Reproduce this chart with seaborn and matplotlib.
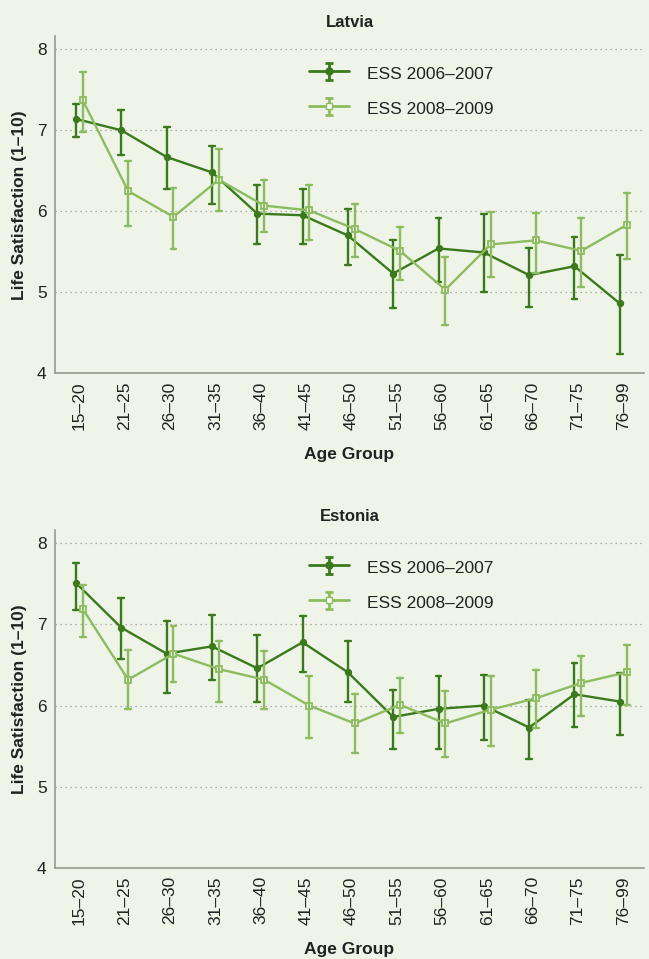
import numpy as np
import pandas as pd
import seaborn as sns
import matplotlib.pyplot as plt

age_groups = ['15–20', '21–25', '26–30', '31–35', '36–40', '41–45', '46–50',
              '51–55', '56–60', '61–65', '66–70', '71–75', '76–99']
surveys = ['ESS 2006–2007', 'ESS 2008–2009']

# Latvia: mean, lower and upper bound of the interval
lv_0607 = [7.14, 7.00, 6.67, 6.48, 5.97, 5.95, 5.70, 5.23, 5.54, 5.49, 5.21, 5.32, 4.86]
lv_0607_lo = [6.92, 6.69, 6.27, 6.09, 5.60, 5.60, 5.34, 4.80, 5.13, 5.00, 4.82, 4.92, 4.23]
lv_0607_hi = [7.33, 7.25, 7.04, 6.81, 6.33, 6.28, 6.03, 5.64, 5.92, 5.97, 5.55, 5.68, 5.46]
lv_0809 = [7.37, 6.25, 5.93, 6.39, 6.07, 6.01, 5.78, 5.51, 5.03, 5.59, 5.64, 5.51, 5.83]
lv_0809_lo = [6.98, 5.82, 5.53, 6.00, 5.74, 5.65, 5.44, 5.15, 4.59, 5.19, 5.24, 5.06, 5.41]
lv_0809_hi = [7.72, 6.62, 6.29, 6.77, 6.38, 6.32, 6.09, 5.81, 5.44, 5.99, 5.98, 5.92, 6.23]

# Estonia
ee_0607 = [7.51, 6.96, 6.64, 6.73, 6.46, 6.78, 6.41, 5.86, 5.96, 6.00, 5.73, 6.14, 6.05]
ee_0607_lo = [7.18, 6.57, 6.16, 6.32, 6.04, 6.41, 6.04, 5.47, 5.47, 5.57, 5.34, 5.74, 5.64]
ee_0607_hi = [7.76, 7.33, 7.04, 7.12, 6.87, 7.10, 6.80, 6.19, 6.36, 6.38, 6.07, 6.53, 6.40]
ee_0809 = [7.19, 6.32, 6.64, 6.45, 6.32, 6.00, 5.78, 6.01, 5.78, 5.95, 6.09, 6.28, 6.41]
ee_0809_lo = [6.85, 5.96, 6.29, 6.05, 5.96, 5.60, 5.41, 5.66, 5.37, 5.50, 5.72, 5.87, 6.01]
ee_0809_hi = [7.49, 6.68, 6.98, 6.80, 6.67, 6.36, 6.14, 6.34, 6.18, 6.36, 6.44, 6.61, 6.75]

bg = '#eef4e8'
dark = '#3b7a1c'
light = '#8dbb5f'
palette = {surveys[0]: dark, surveys[1]: light}


def to_long(series):
    # three rows per group (lo, mean, hi): median gives the mean, min/max the interval
    rows = []
    for survey, (mid, lo, hi) in series.items():
        for i, age in enumerate(age_groups):
            for v in (lo[i], mid[i], hi[i]):
                rows.append({'age': age, 'survey': survey, 'value': v})
    return pd.DataFrame(rows)


data = {
    'Latvia': to_long({surveys[0]: (lv_0607, lv_0607_lo, lv_0607_hi),
                       surveys[1]: (lv_0809, lv_0809_lo, lv_0809_hi)}),
    'Estonia': to_long({surveys[0]: (ee_0607, ee_0607_lo, ee_0607_hi),
                        surveys[1]: (ee_0809, ee_0809_lo, ee_0809_hi)}),
}

sns.set_style('white')
plt.rcParams['font.family'] = ['Liberation Sans', 'DejaVu Sans']

fig = plt.figure(figsize=(6.49, 9.59), dpi=100, facecolor=bg)
axes = [fig.add_axes([0.0847, 0.611, 0.9076, 0.351]),
        fig.add_axes([0.0847, 0.095, 0.9076, 0.352])]

for ax, (country, df) in zip(axes, data.items()):
    ax.set_facecolor(bg)
    sns.pointplot(data=df, x='age', y='value', hue='survey', order=age_groups,
                  hue_order=surveys, palette=palette, estimator='median',
                  errorbar=lambda v: (v.min(), v.max()), dodge=0.15,
                  markers=['o', 's'], capsize=0.13, linewidth=1.7,
                  markersize=4, err_kws={'linewidth': 1.7}, legend=False, ax=ax)
    for line in ax.lines:
        if line.get_marker() == 's':
            line.set_markerfacecolor('white')
            line.set_markeredgewidth(1.3)

    ax.set_ylim(4, 8.16)
    ax.set_xlim(-0.54, 12.46)
    ax.set_yticks([4, 5, 6, 7, 8])
    for y in [5, 6, 7, 8]:
        ax.axhline(y, color='#999999', linestyle=(0, (1, 3)), linewidth=0.9, zorder=0)
    ax.tick_params(axis='y', labelsize=12.5, length=0, pad=6, labelcolor='#222222')
    ax.tick_params(axis='x', labelsize=12.5, length=0, pad=6, labelcolor='#222222',
                   rotation=90)
    for s in ['top', 'right']:
        ax.spines[s].set_visible(False)
    for s in ['left', 'bottom']:
        ax.spines[s].set_color('#999999')
        ax.spines[s].set_linewidth(1.2)
    ax.set_title(country, fontsize=12, fontweight='bold', pad=7, color='#222222')
    ax.set_xlabel('Age Group', fontsize=12.5, fontweight='bold', labelpad=12,
                  color='#222222')
    ax.set_ylabel('Life Satisfaction (1–10)', fontsize=12.5, fontweight='bold',
                  labelpad=7, color='#222222')

    handles = []
    for s, mk, fc in [(surveys[0], 'o', dark), (surveys[1], 's', 'white')]:
        h = ax.errorbar([np.nan], [np.nan], yerr=[1], color=palette[s], marker=mk,
                        markersize=5, markerfacecolor=fc, markeredgecolor=palette[s],
                        linewidth=2, elinewidth=2, capsize=3, capthick=2, label=s)
        handles.append(h)
    ax.legend(handles=handles, loc='center left', bbox_to_anchor=(0.42, 0.84),
              frameon=False, fontsize=12.5, handlelength=2.3, handletextpad=1.0,
              handleheight=1.2, labelspacing=1.0, borderaxespad=0,
              labelcolor='#222222')

fig.savefig('out.png', dpi=100, facecolor=bg)
